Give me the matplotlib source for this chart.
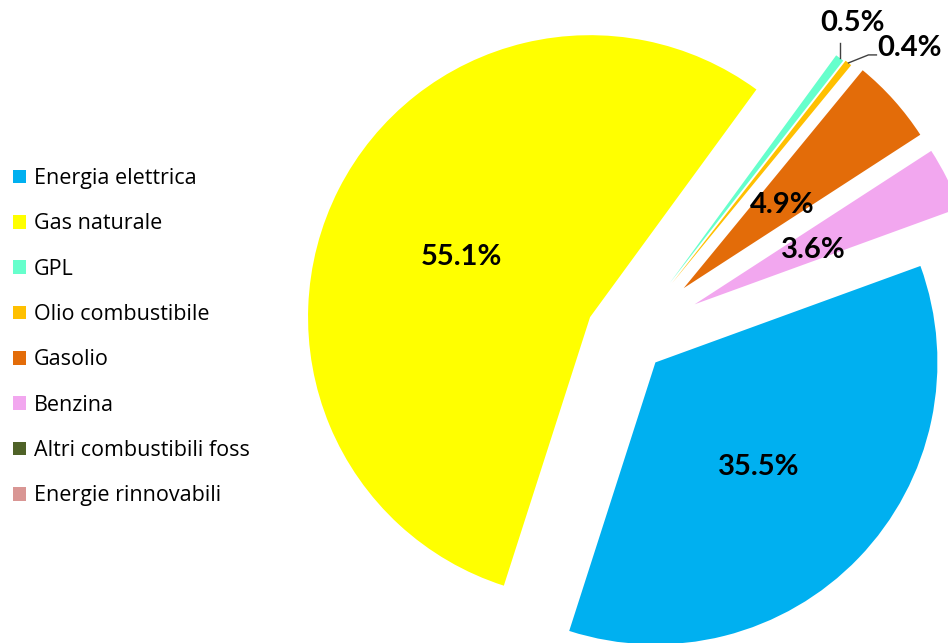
import numpy as np
import matplotlib.pyplot as plt

fonti = ['Energia elettrica', 'Gas naturale', 'GPL', 'Olio combustibile',
         'Gasolio', 'Benzina', 'Altri combustibili foss', 'Energie rinnovabili']
quote = [35.5, 55.1, 0.5, 0.4, 4.9, 3.6, 0.0, 0.0]
colori = ['#00B0F0', '#FFFF00', '#66FFCC', '#FFC000',
          '#E36C09', '#F2A7EF', '#4F6228', '#D99694']
stacco = [0.13, 0.155, 0.24, 0.245, 0.26, 0.26, 0.0, 0.0]
dist_etichetta = [0.51, 0.51, 0, 0, 0.47, 0.47, 0, 0]

W, H = 948, 643
R = 282.0            # pie radius in px
cx, cy = 629, 337    # pie centre in px (from top)

plt.rcParams['font.family'] = ['Lato', 'DejaVu Sans']
fig = plt.figure(figsize=(W / 100, H / 100), dpi=100)
ax = fig.add_axes([0, 0, 1, 1])


def pct(p):
    return f'{p:.1f}%' if p >= 1 else ''


wedges, _, autot = ax.pie(quote, colors=colori, explode=stacco, startangle=20,
                          counterclock=False, autopct=pct, pctdistance=0.5,
                          wedgeprops=dict(linewidth=0),
                          textprops=dict(fontsize=21, fontweight='bold', color='black'))

ax.set_xlim(-cx / R, (W - cx) / R)
ax.set_ylim(-(H - cy) / R, cy / R)
ax.set_aspect('auto')
ax.axis('off')

px = 1 / R

# move inside labels to match
for w, t, d in zip(wedges, autot, dist_etichetta):
    a = np.deg2rad((w.theta1 + w.theta2) / 2)
    t.set_position((w.center[0] + d * w.r * np.cos(a),
                    w.center[1] + d * w.r * np.sin(a) - 5 * px))


# small slices: labels outside with leader lines
def tip(w):
    a = np.deg2rad((w.theta1 + w.theta2) / 2)
    return w.center[0] + w.r * np.cos(a), w.center[1] + w.r * np.sin(a)


x0, y0 = tip(wedges[2])
ax.plot([x0, x0], [y0, y0 + 15 * px], color='#404040', lw=1)
ax.text(x0 + 13 * px, y0 + 35 * px, '0.5%', ha='center', va='center',
        fontsize=21, fontweight='bold')

x1, y1 = tip(wedges[3])
ax.plot([x1, x1 + 20 * px, x1 + 28 * px], [y1, y1 + 8 * px, y1 + 8 * px],
        color='#404040', lw=1)
ax.text(x1 + 29 * px, y1 + 15 * px, '0.4%', ha='left', va='center',
        fontsize=21, fontweight='bold')

fig.legend(wedges, fonti, loc='upper left', bbox_to_anchor=(0.005, 0.752),
           frameon=False, prop=dict(family='Open Sans', size=15.5),
           handlelength=0.6, handleheight=0.6, handletextpad=0.35,
           labelspacing=1.13, borderaxespad=0)

fig.savefig('out.png', dpi=100)
